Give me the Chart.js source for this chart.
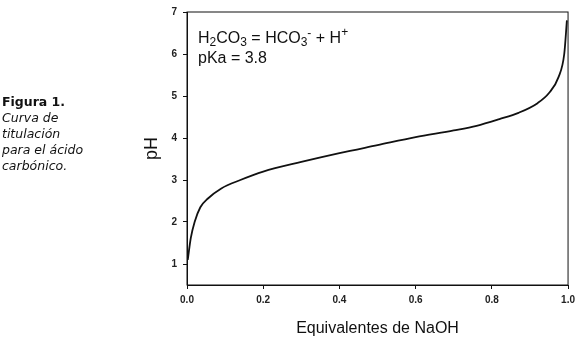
<!DOCTYPE html>
<html>
<head>
<meta charset="utf-8">
<script src="https://cdn.jsdelivr.net/npm/chart.js@4.4.1/dist/chart.umd.min.js"></script>
<style>
  body { margin: 0; background: #fff; }
  #wrap { position: relative; width: 580px; height: 337px; }
  #caption {
    position: absolute; left: 2px; top: 94px;
    font: 12.5px "DejaVu Sans", Verdana, sans-serif; line-height: 16px; color: #111;
  }
  #caption b { font-weight: bold; }
  #caption i { font-style: italic; }
</style>
</head>
<body>
<div id="wrap">
  <canvas id="titrationChart" width="580" height="337"></canvas>
  <div id="caption"><b>Figura 1.</b><br><i>Curva de<br>titulación<br>para el ácido<br>carbónico.</i></div>
</div>
<script>
// values
const naohEq = [0.002, 0.01, 0.02, 0.035, 0.055, 0.09, 0.14, 0.2, 0.3, 0.4, 0.5, 0.6, 0.7, 0.76, 0.82, 0.87, 0.92, 0.95, 0.975, 0.99, 0.997];
const phValues = [1.1, 1.62, 2.0, 2.35, 2.56, 2.8, 3.0, 3.2, 3.43, 3.64, 3.83, 4.02, 4.18, 4.29, 4.45, 4.6, 4.83, 5.07, 5.45, 6.0, 6.8];
const yTicks = [1, 2, 3, 4, 5, 6, 7];
const xTicks = [0, 0.2, 0.4, 0.6, 0.8, 1.0];

const points = naohEq.map((x, i) => ({ x: x, y: phValues[i] }));

// box around plot + reaction text
const extras = {
    id: 'extras',
    afterDraw(chart) {
        const { ctx, chartArea } = chart;
        ctx.save();
        ctx.strokeStyle = '#111';
        ctx.lineWidth = 1;
        ctx.strokeRect(chartArea.left, chartArea.top, chartArea.right - chartArea.left, chartArea.bottom - chartArea.top);

        ctx.fillStyle = '#111';
        ctx.textBaseline = 'alphabetic';
        let x = 198, y = 43;
        const big = '16px "Liberation Sans", Arial, sans-serif';
        const small = '12px "Liberation Sans", Arial, sans-serif';
        const parts = [
            ['H', big, 0], ['2', small, 3], ['CO', big, 0], ['3', small, 3],
            [' = HCO', big, 0], ['3', small, 3], ['-', small, -6], [' + H', big, 0], ['+', small, -7]
        ];
        parts.forEach(p => {
            ctx.font = p[1];
            ctx.fillText(p[0], x, y + p[2]);
            x += ctx.measureText(p[0]).width;
        });
        ctx.font = big;
        ctx.fillText('pKa = 3.8', 198, 63);
        ctx.restore();
    }
};

const ctx = document.getElementById('titrationChart').getContext('2d');
const titrationChart = new Chart(ctx, {
    type: 'line',
    data: {
        datasets: [{
            data: points,
            borderColor: '#111',
            borderWidth: 1.8,
            pointRadius: 0,
            cubicInterpolationMode: 'monotone',
            fill: false
        }]
    },
    options: {
        responsive: false,
        animation: false,
        layout: { padding: { left: 143, top: 7, right: 8, bottom: 0 } },
        scales: {
            x: {
                type: 'linear',
                min: 0,
                max: 1,
                afterFit: s => { s.height = 52; },
                afterBuildTicks: s => { s.ticks = xTicks.map(v => ({ value: v })); },
                grid: { drawOnChartArea: false, tickLength: 4, color: '#111' },
                border: { color: '#111' },
                ticks: {
                    padding: 5,
                    color: '#222',
                    font: { family: '"Liberation Sans", Arial', size: 10, weight: 'bold' },
                    callback: v => v.toFixed(1),
                    maxRotation: 0
                },
                title: {
                    display: true,
                    text: 'Equivalentes de NaOH',
                    color: '#111',
                    padding: 0,
                    font: { family: '"Liberation Sans", Arial', size: 16, lineHeight: 1 }
                }
            },
            y: {
                min: 0.5,
                max: 7,
                afterFit: s => { s.width = 44; },
                afterBuildTicks: s => { s.ticks = yTicks.map(v => ({ value: v })); },
                grid: { drawOnChartArea: false, tickLength: 4, color: '#111' },
                border: { color: '#111' },
                ticks: {
                    padding: 6,
                    color: '#222',
                    font: { family: '"Liberation Sans", Arial', size: 10, weight: 'bold' }
                },
                title: {
                    display: true,
                    text: 'pH',
                    color: '#111',
                    padding: 0,
                    font: { family: '"Liberation Sans", Arial', size: 18, lineHeight: 1 }
                }
            }
        },
        plugins: {
            legend: { display: false },
            tooltip: { enabled: false }
        }
    },
    plugins: [extras]
});
</script>
</body>
</html>
